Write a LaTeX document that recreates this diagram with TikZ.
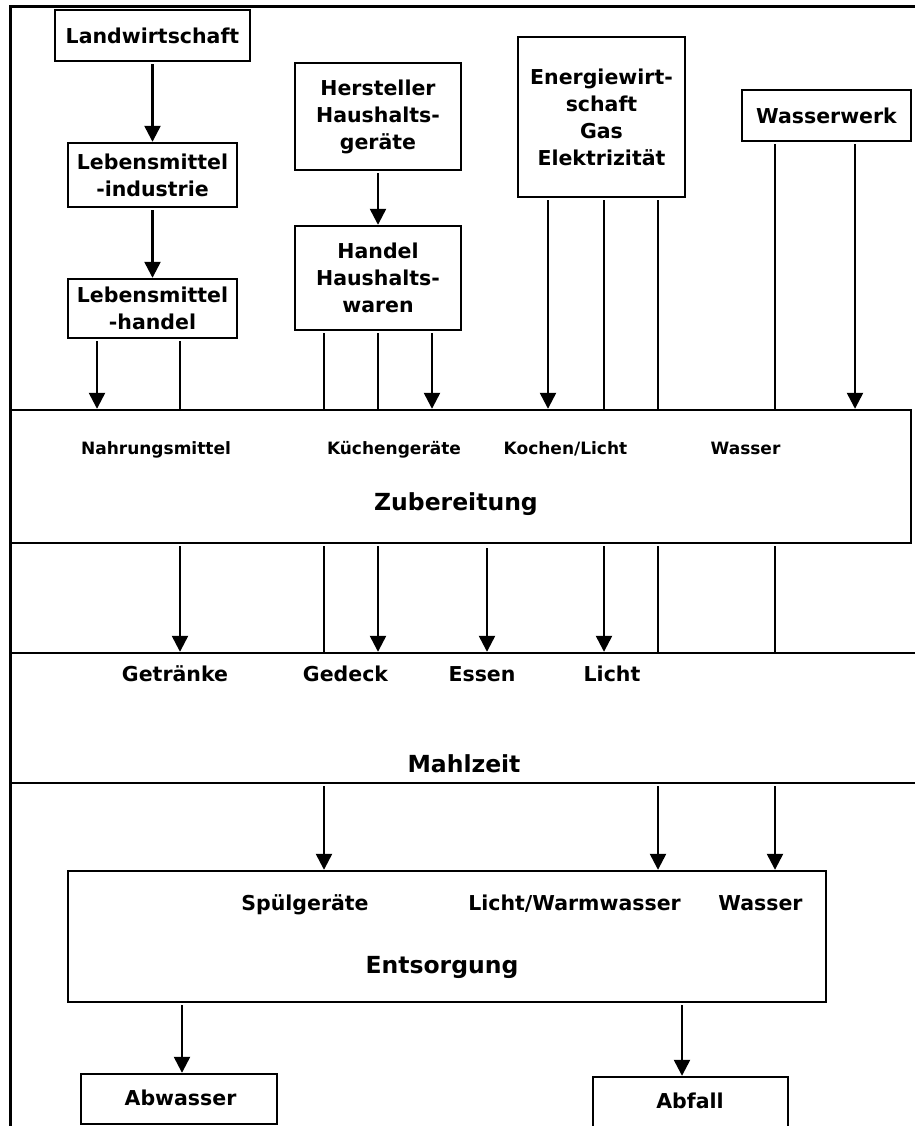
\documentclass[tikz,border=0pt]{standalone}
\usepackage{fontspec}
\setmainfont{DejaVu Sans}
\usetikzlibrary{arrows.meta}

\begin{document}
\begin{tikzpicture}[x=1pt,y=-1pt,>={Triangle[length=16pt,width=16pt]},
  box/.style={draw,line width=2.4pt,align=center,inner sep=0pt,font=\fontsize{20.5}{27}\selectfont\bfseries},
  stage/.style={draw,line width=2.4pt,inner sep=0pt},
  sublbl/.style={anchor=base,font=\fontsize{17}{20}\selectfont\bfseries},
  itemlbl/.style={anchor=base,font=\fontsize{20.5}{24}\selectfont\bfseries},
  stagelbl/.style={anchor=base,font=\fontsize{23.5}{28}\selectfont\bfseries},
  link/.style={line width=2.4pt,shorten <=2pt}]
  \useasboundingbox (0,0) rectangle (914,1126);
  %outer frame, cut at right and bottom
  \draw[line width=3.8pt] (10.5,1140) |- (930,6.5);

  %suppliers
  \node[box,minimum width=195pt,minimum height=51pt] (LW) at (152.5,35.5) {Landwirtschaft};
  \node[box,minimum width=169pt,minimum height=64pt] (LI) at (152.5,175) {Lebensmittel\\-industrie};
  \node[box,minimum width=169pt,minimum height=59pt] (LH) at (152.5,308.5) {Lebensmittel\\-handel};
  \node[box,minimum width=166pt,minimum height=107pt] (HG) at (378,116.5) {Hersteller\\Haushalts-\\geräte};
  \node[box,minimum width=166pt,minimum height=104pt] (HW) at (378,278) {Handel\\Haushalts-\\waren};
  \node[box,minimum width=167pt,minimum height=160pt] (EW) at (601.5,117) {Energiewirt-\\schaft\\Gas\\Elektrizität};
  \node[box,minimum width=169pt,minimum height=51pt] (WW) at (826.5,115.5) {Wasserwerk};

  %stages
  \node[stage,minimum width=900.5pt,minimum height=133pt] (Z) at (460.75,476.5) {};
  \node[stage,minimum width=919.5pt,minimum height=130pt] (M) at (470.25,718) {};
  \node[stage,minimum width=758pt,minimum height=131pt] (E) at (447,936.5) {};

  %disposal
  \node[box,minimum width=196pt,minimum height=50pt] (AW) at (179,1099) {};
  \node[box,minimum width=195pt,minimum height=80pt] (AF) at (690.5,1117) {};

  %labels Zubereitung
  \node[sublbl] (Z1) at (156,454) {Nahrungsmittel};
  \node[sublbl] (Z2) at (394,454) {Küchengeräte};
  \node[sublbl] (Z3) at (565.5,454) {Kochen/Licht};
  \node[sublbl] (Z4) at (745.5,454) {Wasser};
  \node[stagelbl] (ZL) at (456,510) {Zubereitung};
  %labels Mahlzeit
  \node[itemlbl] (M1) at (175,681) {Getränke};
  \node[itemlbl] (M2) at (345.5,681) {Gedeck};
  \node[itemlbl] (M3) at (482,681) {Essen};
  \node[itemlbl] (M4) at (612,681) {Licht};
  \node[stagelbl] (ML) at (464,772) {Mahlzeit};
  %labels Entsorgung
  \node[itemlbl] (E1) at (305,910) {Spülgeräte};
  \node[itemlbl] (E2) at (574.5,910) {Licht/Warmwasser};
  \node[itemlbl] (E3) at (760.5,910) {Wasser};
  \node[stagelbl] (EL) at (442,973) {Entsorgung};
  \node[itemlbl] (AWL) at (180.5,1105) {Abwasser};
  \node[itemlbl] (AFL) at (690,1108) {Abfall};

  %columns of the connectors
  \coordinate (xa) at (97,0);
  \coordinate (xb) at (180,0);
  \coordinate (xc) at (324,0);
  \coordinate (xd) at (378,0);
  \coordinate (xe) at (432,0);
  \coordinate (xf) at (487,0);
  \coordinate (xg) at (548,0);
  \coordinate (xh) at (604,0);
  \coordinate (xi) at (658,0);
  \coordinate (xj) at (775,0);
  \coordinate (xk) at (855,0);
  \coordinate (xl) at (182,0);
  \coordinate (xm) at (682,0);

  %supply chains
  \draw[link,->] (LW) -- (LI);
  \draw[link,->] (LI) -- (LH);
  \draw[link,->] (HG) -- (HW);

  %into Zubereitung
  \draw[link,->] (LH.south -| xa) -- (Z.north -| xa);
  \draw[link] (LH.south -| xb) -- (Z.north -| xb);
  \draw[link] (HW.south -| xc) -- (Z.north -| xc);
  \draw[link] (HW.south -| xd) -- (Z.north -| xd);
  \draw[link,->] (HW.south -| xe) -- (Z.north -| xe);
  \draw[link,->] (EW.south -| xg) -- (Z.north -| xg);
  \draw[link] (EW.south -| xh) -- (Z.north -| xh);
  \draw[link] (EW.south -| xi) -- (Z.north -| xi);
  \draw[link] (WW.south -| xj) -- (Z.north -| xj);
  \draw[link,->] (WW.south -| xk) -- (Z.north -| xk);

  %into Mahlzeit
  \draw[link,->] (Z.south -| xb) -- (M.north -| xb);
  \draw[link] (Z.south -| xc) -- (M.north -| xc);
  \draw[link,->] (Z.south -| xd) -- (M.north -| xd);
  \draw[link,->,shorten <=4pt] (Z.south -| xf) -- (M.north -| xf);
  \draw[link,->] (Z.south -| xh) -- (M.north -| xh);
  \draw[link] (Z.south -| xi) -- (M.north -| xi);
  \draw[link] (Z.south -| xj) -- (M.north -| xj);

  %into Entsorgung
  \draw[link,->] (M.south -| xc) -- (E.north -| xc);
  \draw[link,->] (M.south -| xi) -- (E.north -| xi);
  \draw[link,->] (M.south -| xj) -- (E.north -| xj);

  %out of Entsorgung
  \draw[link,->] (E.south -| xl) -- (AW.north -| xl);
  \draw[link,->] (E.south -| xm) -- (AF.north -| xm);
\end{tikzpicture}
\end{document}
